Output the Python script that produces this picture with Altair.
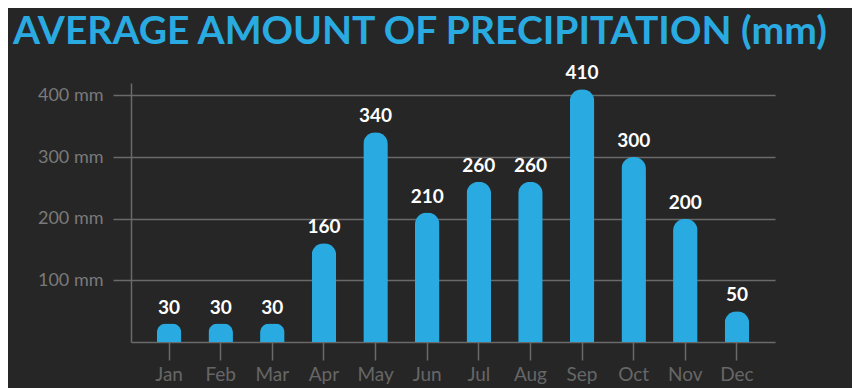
import altair as alt
import pandas as pd

months = ["Jan", "Feb", "Mar", "Apr", "May", "Jun", "Jul", "Aug", "Sep", "Oct", "Nov", "Dec"]
precip = [30, 30, 30, 160, 340, 210, 260, 260, 410, 300, 200, 50]
y_ticks = [100, 200, 300, 400]
title_text = "AVERAGE AMOUNT OF PRECIPITATION (mm)"

df = pd.DataFrame({"month": months, "mm": precip})

x_enc = alt.X(
    "month:N",
    sort=months,
    scale=alt.Scale(paddingInner=0.525, paddingOuter=0.5),
    axis=alt.Axis(
        title=None,
        labelAngle=0,
        labelFont="Lato",
        labelFontSize=19,
        labelColor="#666666",
        labelPadding=5,
        tickSize=18,
        tickColor="#6a6a6a",
        tickWidth=1.5,
        domainColor="#6a6a6a",
        domainWidth=1.5,
        grid=False,
    ),
)
y_enc = alt.Y(
    "mm:Q",
    scale=alt.Scale(domain=[0, 420], nice=False),
    axis=alt.Axis(
        title=None,
        values=y_ticks,
        labelExpr="datum.value + ' mm'",
        labelFont="Lato",
        labelFontSize=18,
        labelColor="#7a7a7a",
        labelPadding=10,
        tickSize=18,
        tickColor="#6a6a6a",
        tickWidth=1.5,
        domainColor="#6a6a6a",
        domainWidth=1.5,
        grid=True,
        gridColor="#6a6a6a",
        gridWidth=1.5,
    ),
)

bars = alt.Chart(df).mark_bar(
    color="#29abe2",
    cornerRadiusTopLeft=12,
    cornerRadiusTopRight=12,
).encode(x=x_enc, y=y_enc)

labels = alt.Chart(df).mark_text(
    font="Lato",
    fontWeight="bold",
    fontSize=19,
    color="#ffffff",
    baseline="alphabetic",
    dy=-10,
).encode(x=alt.X("month:N", sort=months), y="mm:Q", text="mm:Q")

title = alt.Chart(pd.DataFrame({"t": [title_text]})).mark_text(
    font="Lato",
    fontWeight="bold",
    fontSize=39,
    color="#29abe2",
    align="left",
    baseline="top",
).encode(x=alt.value(-118), y=alt.value(-70), text="t:N")

chart = (
    alt.layer(bars, labels, title)
    .properties(
        width=644,
        height=259,
        padding={"left": 123, "top": 75, "right": 77, "bottom": 46},
        autosize=alt.AutoSizeParams(type="none"),
        background="#262626",
    )
    .configure_view(stroke=None)
)

chart.save("out.html", embed_options={"renderer": "svg", "actions": False})
